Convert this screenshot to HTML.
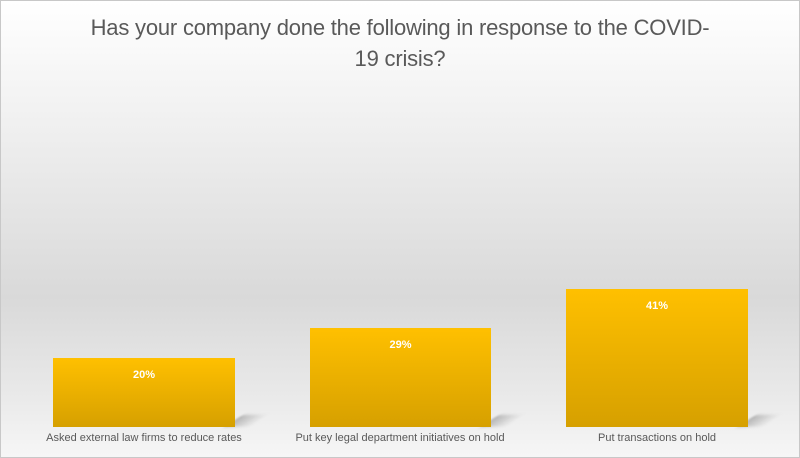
<!DOCTYPE html>
<html><head><style>
body{margin:0}
.c{position:relative;width:798px;height:456px;border:1px solid #c8c8c8;overflow:hidden;
background:linear-gradient(to bottom,#ffffff 0%,#f4f4f4 20%,#e2e2e2 50%,#d9d9d9 65%,#e8e8e8 85%,#f6f6f6 100%);
font-family:"Liberation Sans",sans-serif;color:#595959}
.t{position:absolute;left:0;width:798px;text-align:center;font-size:22px;line-height:31px;top:11px;letter-spacing:-0.2px}
.b{position:absolute;background:linear-gradient(to bottom,#ffc000,#d6a000);bottom:30px}
.s{position:absolute;bottom:30px;height:12px;background:linear-gradient(to right,rgba(110,110,110,.45),rgba(160,160,160,0));transform:skewX(-55deg);transform-origin:bottom left;filter:blur(1.5px)}
.v{position:absolute;width:100%;text-align:center;top:11px;color:#fff;font-size:11px;font-weight:bold}
.l{position:absolute;top:431px;font-size:11px;text-align:center;width:300px}
</style></head><body><div class="c">
<div class="t">Has your company done the following in response to the COVID-<br>19 crisis?</div>
<div class="s" style="left:224px;width:26px"></div>
<div class="s" style="left:480px;width:26px"></div>
<div class="s" style="left:737px;width:26px"></div>
<div class="b" style="left:52px;width:182px;height:69px"><div class="v">20%</div></div>
<div class="b" style="left:309px;width:181px;height:99px"><div class="v">29%</div></div>
<div class="b" style="left:565px;width:182px;height:138px"><div class="v">41%</div></div>
<div class="l" style="left:-7px">Asked external law firms to reduce rates</div>
<div class="l" style="left:249px">Put key legal department initiatives on hold</div>
<div class="l" style="left:506px">Put transactions on hold</div>
</div></body></html>
